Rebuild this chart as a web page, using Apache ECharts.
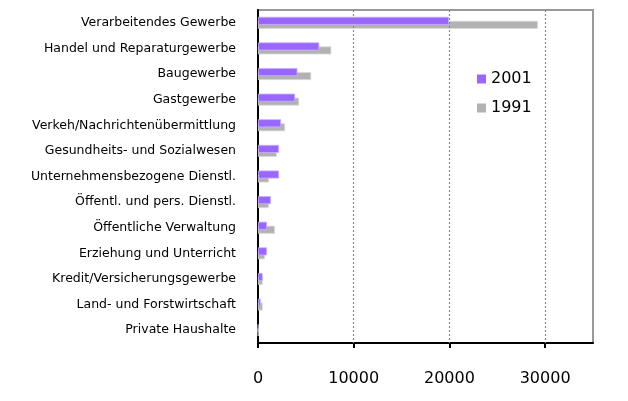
<!DOCTYPE html>
<html><head><meta charset="utf-8">
<script src="https://cdn.jsdelivr.net/npm/echarts@6/dist/echarts.min.js"></script>
<style>html,body{margin:0;padding:0;background:#fff}#c{width:628px;height:401px}</style>
</head><body><div id="c"></div>
<script>
const categories = ["Verarbeitendes Gewerbe","Handel und Reparaturgewerbe","Baugewerbe","Gastgewerbe","Verkeh/Nachrichtenübermittlung","Gesundheits- und Sozialwesen","Unternehmensbezogene Dienstl.","Öffentl. und pers. Dienstl.","Öffentliche Verwaltung","Erziehung und Unterricht","Kredit/Versicherungsgewerbe","Land- und Forstwirtschaft","Private Haushalte"];
const values2001 = [19950,6400,4120,3880,2410,2200,2200,1360,940,940,490,280,30];
const values1991 = [29240,7660,5560,4300,2830,1960,1150,1150,1780,730,490,490,30];
const seriesNames = ["2001","1991"];
const xTicks = [0,10000,20000,30000];

const chart = echarts.init(document.getElementById('c'), null, {renderer:'canvas'});
chart.setOption({
  animation:false,
  grid:{left:258,right:35,top:10,bottom:58,show:true,borderColor:'#999',borderWidth:2},
  legend:{orient:'vertical',left:472,top:66,itemWidth:9,itemHeight:9,itemGap:13,icon:'rect',
    itemStyle:{borderWidth:0},
    textStyle:{fontFamily:'DejaVu Sans',fontSize:16,color:'#000'},
    data:seriesNames},
  xAxis:{type:'value',min:0,max:35000,interval:10000,
    axisLine:{show:true,lineStyle:{color:'#000',width:2}},
    axisTick:{show:true,length:5,lineStyle:{color:'#000',width:2},customValues:xTicks},
    axisLabel:{margin:28,fontFamily:'DejaVu Sans',fontSize:16,color:'#000',customValues:xTicks,
      formatter:v=>String(v)},
    splitLine:{show:false}},
  yAxis:{type:'category',inverse:true,data:categories,
    axisLine:{show:true,lineStyle:{color:'#000',width:2}},
    axisTick:{show:false},
    axisLabel:{margin:22,fontFamily:'DejaVu Sans',fontSize:12.5,color:'#000'}},
  series:[
    {name:seriesNames[0],type:'bar',data:values2001,barWidth:8,barGap:'-50%',z:3,
      itemStyle:{color:'#9966ff',borderColor:'#c8b0ff',borderWidth:0.8},
      markLine:{silent:true,symbol:'none',label:{show:false},
        lineStyle:{color:'#888',type:[2,2],width:1.2},
        data:xTicks.slice(1).map(v=>({xAxis:v}))}},
    {name:seriesNames[1],type:'bar',data:values1991,barWidth:8,barGap:'-50%',z:2,
      itemStyle:{color:'#b2b2b2',borderColor:'#dadada',borderWidth:0.8}}
  ]
});
</script></body></html>
